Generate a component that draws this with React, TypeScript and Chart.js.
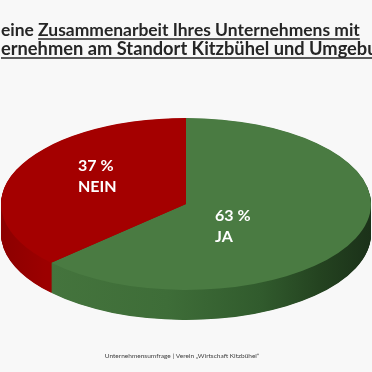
import { useEffect, useRef } from "react";
import { Chart, registerables } from "chart.js";

Chart.register(...registerables);

// ---- data ----
const TITLE_LINES = [
  "eine Zusammenarbeit Ihres Unternehmens mit",
  "ernehmen am Standort Kitzbühel und Umgebu",
];
const TITLE_UNDERLINE_FROM = ["eine ", ""];
const CATEGORIES = ["JA", "NEIN"];
const VALUES = [63, 37];
const FOOTER = "Unternehmensumfrage | Verein „Wirtschaft Kitzbühel“";

// ---- style ----
const TOP_COLORS = ["#4a7b42", "#a40000"];
const BG = "#f8f8f8";
const ELLIPSE_CY = 204;
const ELLIPSE_RY = 86;
const DEPTH = 30;
const LABEL_OFFSETS = [
  [29, 17],
  [-108, -33],
];
const LABEL_LINE_GAP = 21;
const FONT = "Lato, 'Open Sans', sans-serif";
const TITLE_WIDTHS = [359, 377];
const TITLE_BASELINES = [36, 55];

function sideGradients(ctx: CanvasRenderingContext2D, x: number, R: number) {
  const g = ctx.createLinearGradient(x - R, 0, x + R, 0);
  g.addColorStop(0, "#47773f");
  g.addColorStop(0.45, "#3e6d38");
  g.addColorStop(0.7, "#315b2d");
  g.addColorStop(0.86, "#244320");
  g.addColorStop(1, "#1b3119");
  const r = ctx.createLinearGradient(x - R, 0, x + R, 0);
  r.addColorStop(0, "#8c0000");
  r.addColorStop(0.12, "#9c0000");
  r.addColorStop(1, "#9c0000");
  return [g, r];
}

const pie3d = {
  id: "pie3d",
  beforeDatasetsDraw(chart: any) {
    const ctx = chart.ctx as CanvasRenderingContext2D;
    const meta = chart.getDatasetMeta(0);
    const a0 = meta.data[0];
    const { x, y, outerRadius: R } = a0.getProps(["x", "y", "outerRadius"], true);
    const k = ELLIPSE_RY / R;
    ctx.save();
    ctx.translate(0, ELLIPSE_CY - y * k);
    ctx.scale(1, k);
    const grads = sideGradients(ctx, x, R);
    for (let d = DEPTH; d > 0; d -= 0.5) {
      ctx.save();
      ctx.translate(0, d / k);
      meta.data.forEach((arc: any, i: number) => {
        const o = arc.options;
        arc.options = { ...o, backgroundColor: grads[i], borderWidth: 0 };
        arc.draw(ctx);
        arc.options = o;
      });
      ctx.restore();
    }
  },
  afterDatasetsDraw(chart: any) {
    chart.ctx.restore();
  },
};

const texts = {
  id: "texts",
  afterDraw(chart: any) {
    const ctx = chart.ctx as CanvasRenderingContext2D;
    const meta = chart.getDatasetMeta(0);
    const cx = meta.data[0].x;
    // labels
    ctx.save();
    ctx.fillStyle = "#ffffff";
    ctx.font = `700 16px ${FONT}`;
    ctx.textAlign = "left";
    ctx.textBaseline = "alphabetic";
    meta.data.forEach((_arc: any, i: number) => {
      const [dx, dy] = LABEL_OFFSETS[i];
      ctx.fillText(`${VALUES[i]} %`, cx + dx, ELLIPSE_CY + dy);
      ctx.fillText(CATEGORIES[i], cx + dx, ELLIPSE_CY + dy + LABEL_LINE_GAP);
    });
    ctx.restore();

    // title
    ctx.save();
    ctx.fillStyle = "#262626";
    ctx.strokeStyle = "#262626";
    ctx.textAlign = "left";
    TITLE_LINES.forEach((line, i) => {
      ctx.font = `700 17px ${FONT}`;
      const w = ctx.measureText(line).width;
      const size = (17 * TITLE_WIDTHS[i]) / w;
      ctx.font = `700 ${size}px ${FONT}`;
      const b = TITLE_BASELINES[i];
      ctx.fillText(line, 1, b);
      const start = 1 + ctx.measureText(TITLE_UNDERLINE_FROM[i]).width;
      const end = 1 + ctx.measureText(line).width;
      ctx.lineWidth = 1.5;
      ctx.beginPath();
      ctx.moveTo(start, b + 3);
      ctx.lineTo(end, b + 3);
      ctx.stroke();
    });
    ctx.restore();

    // footer
    ctx.save();
    ctx.fillStyle = "#404040";
    ctx.font = `400 7px ${FONT}`;
    const fw = ctx.measureText(FOOTER).width;
    ctx.font = `400 ${(7 * 155) / fw}px ${FONT}`;
    ctx.textAlign = "center";
    ctx.fillText(FOOTER, 182, 358);
    ctx.restore();
  },
};

export default function App() {
  const ref = useRef<HTMLCanvasElement | null>(null);
  useEffect(() => {
    document.body.style.margin = "0";
    const chart = new Chart(ref.current as HTMLCanvasElement, {
      type: "pie",
      data: {
        labels: CATEGORIES,
        datasets: [
          {
            data: VALUES,
            backgroundColor: TOP_COLORS,
            borderWidth: 0,
            clip: false as any,
          },
        ],
      },
      options: {
        responsive: false,
        animation: false,
        devicePixelRatio: 1,
        events: [],
        layout: { padding: { left: 1, right: 1, top: 0, bottom: 0 } },
        plugins: {
          legend: { display: false },
          tooltip: { enabled: false },
          title: { display: false },
        },
      },
      plugins: [pie3d, texts],
    } as any);
    return () => chart.destroy();
  }, []);
  return (
    <div
      style={{
        position: "fixed",
        left: 0,
        top: 0,
        width: 372,
        height: 372,
        background: BG,
      }}
    >
      <canvas ref={ref} width={372} height={372} style={{ display: "block" }} />
    </div>
  );
}
